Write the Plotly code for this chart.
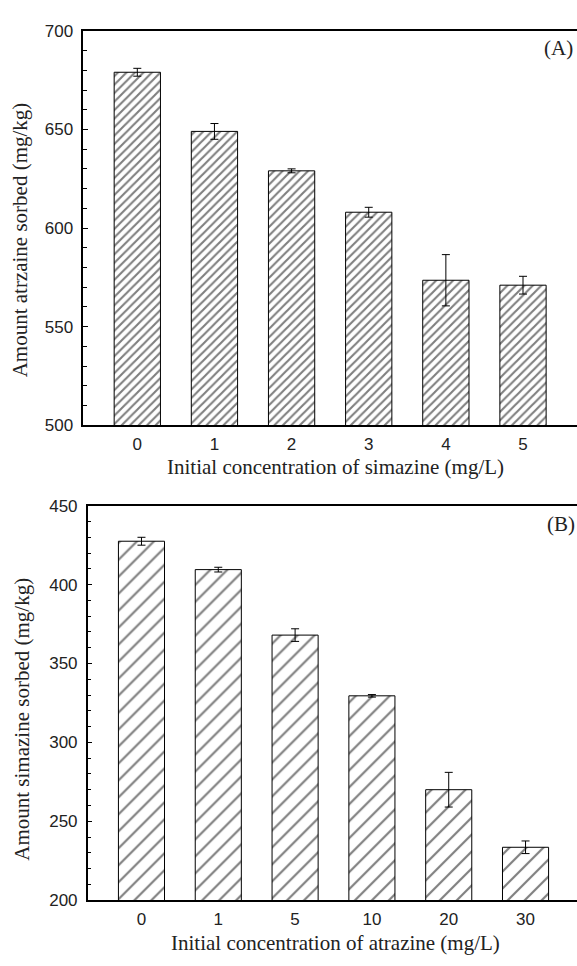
import plotly.graph_objects as go

# Panel A data
cats_a = ["0", "1", "2", "3", "4", "5"]
vals_a = [679, 649, 629, 608, 573.5, 571]
err_a = [2, 4, 1, 2.5, 13, 4.5]

# Panel B data
cats_b = ["0", "1", "5", "10", "20", "30"]
vals_b = [427.5, 409.5, 368, 329.5, 270, 233.5]
err_b = [2.5, 1.5, 4, 0.8, 11, 4]

W, H = 577, 966

def fx(px):
    return px / W

def fy(py):
    return (H - py) / H

fig = go.Figure()
fig.add_trace(go.Bar(
    x=cats_a, y=vals_a, width=0.6, xaxis="x", yaxis="y",
    marker=dict(color="white", line=dict(color="black", width=1),
                pattern=dict(shape="/", size=6, solidity=0.35, fgcolor="black", bgcolor="white")),
    error_y=dict(type="data", array=err_a, color="black", thickness=1, width=4),
    showlegend=False,
))
fig.add_trace(go.Bar(
    x=cats_b, y=vals_b, width=0.6, xaxis="x2", yaxis="y2",
    marker=dict(color="white", line=dict(color="black", width=1),
                pattern=dict(shape="/", size=12, solidity=0.18, fgcolor="black", bgcolor="white")),
    error_y=dict(type="data", array=err_b, color="black", thickness=1, width=4),
    showlegend=False,
))

tickfont = dict(family="Liberation Sans", size=17, color="#222")
serif = "Liberation Serif"

common_x = dict(type="category", showline=True, linecolor="black", linewidth=1.5,
                mirror=True, ticks="", showgrid=False, zeroline=False, tickfont=tickfont)
common_y = dict(showline=True, linecolor="black", linewidth=1.5, ticks="inside", ticklen=5,
                tickcolor="black", showgrid=False, zeroline=False, tickfont=tickfont,
                ticklabelstandoff=5,
                minor=dict(ticks="inside", ticklen=4, tickcolor="black"))

fig.update_layout(
    width=W, height=H, margin=dict(l=0, r=0, t=0, b=0),
    paper_bgcolor="white", plot_bgcolor="white",
    xaxis=dict(common_x, domain=[fx(83.3), 1.0], range=[-0.7, 5.7], anchor="y",
               ticklabelstandoff=3),
    yaxis=dict(common_y, domain=[fy(424.5), fy(22.3)], range=[500, 700], dtick=50, anchor="x"),
    xaxis2=dict(common_x, domain=[fx(87.7), 1.0], range=[-0.7, 5.67], anchor="y2",
                ticklabelstandoff=3),
    yaxis2=dict(common_y, domain=[fy(909), fy(506.7)], range=[200, 450], dtick=50, anchor="x2"),
    bargap=0.4,
)

ann = [
    dict(text="Initial concentration of simazine (mg/L)", x=fx(335), y=fy(467)),
    dict(text="Initial concentration of atrazine (mg/L)", x=fx(335), y=fy(953)),
    dict(text="Amount atrzaine sorbed (mg/kg)", x=fx(20), y=fy(236), textangle=-90),
    dict(text="Amount simazine sorbed (mg/kg)", x=fx(22), y=fy(725), textangle=-90),
    dict(text="(A)", x=fx(558), y=fy(40)),
    dict(text="(B)", x=fx(561), y=fy(525)),
]
for a in ann:
    fig.add_annotation(xref="paper", yref="paper", showarrow=False,
                       xanchor="center", yanchor="middle",
                       font=dict(family=serif, size=21, color="#222"), **a)

fig.write_html("out.html")
